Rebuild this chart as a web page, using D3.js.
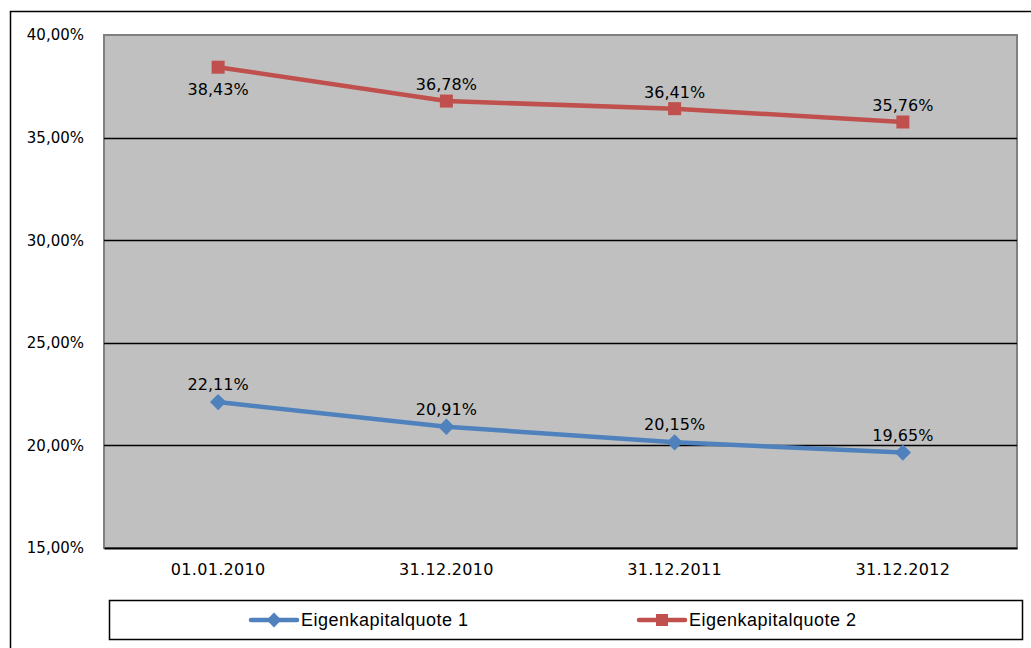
<!DOCTYPE html>
<html>
<head>
<meta charset="utf-8">
<title>Eigenkapitalquote</title>
<script src="https://d3js.org/d3.v7.min.js"></script>
<style>
  body { margin: 0; background: #fff; }
  text { font-family: "DejaVu Sans", Verdana, sans-serif; fill: #000; }
</style>
</head>
<body>
<svg id="svg"></svg>
<script>
var width = 1031, height = 648;
var margins = {top: 35, left: 104, right: 14, bottom: 100};

// data
var categories = ["01.01.2010", "31.12.2010", "31.12.2011", "31.12.2012"];
var quote1 = [22.11, 20.91, 20.15, 19.65];
var quote2 = [38.43, 36.78, 36.41, 35.76];
var seriesNames = ["Eigenkapitalquote 1", "Eigenkapitalquote 2"];
var yTicks = [15, 20, 25, 30, 35, 40];

var fmt = function(v) { return v.toFixed(2).replace(".", ",") + "%"; };

var svg = d3.select("#svg").attr("width", width).attr("height", height);

// outer chart frame
svg.append("rect")
  .attr("x", 10.5).attr("y", 11.5)
  .attr("width", 1040).attr("height", 660)
  .attr("fill", "#fff").attr("stroke", "#000").attr("stroke-width", 1.5);

var plotW = width - margins.left - margins.right,
    plotH = height - margins.top - margins.bottom;

var x = d3.scaleBand().domain(categories).range([0, plotW]);
var y = d3.scaleLinear().domain([15, 40]).range([plotH, 0]);

var g = svg.append("g").attr("transform", "translate(" + margins.left + "," + margins.top + ")");

// plot area
g.append("rect")
  .attr("width", plotW).attr("height", plotH)
  .attr("fill", "#c0c0c0").attr("stroke", "#808080").attr("stroke-width", 2);

// gridlines
g.selectAll(".grid").data(yTicks.slice(1, -1)).enter().append("line")
  .attr("x1", 0).attr("x2", plotW)
  .attr("y1", function(d) { return Math.round(y(d)) + 0.5; })
  .attr("y2", function(d) { return Math.round(y(d)) + 0.5; })
  .attr("stroke", "#000").attr("stroke-width", 1.3);

// y axis
var axisY = d3.axisLeft(y).tickValues(yTicks).tickSize(0).tickPadding(20).tickFormat(fmt);
var ay = g.append("g").call(axisY);
ay.select(".domain").remove();
ay.selectAll("text").style("font-size", "15px").style("font-family", "DejaVu Sans").attr("fill", "#000");

// x axis
var axisX = d3.axisBottom(x).tickSize(0).tickPadding(16);
var ax = g.append("g").attr("transform", "translate(0," + plotH + ")").call(axisX);
ax.select(".domain").attr("stroke", "#000").attr("stroke-width", 2);
ax.selectAll("text").style("font-size", "16px").style("font-family", "DejaVu Sans")
  .style("letter-spacing", "0.3px").attr("fill", "#000");

var line = d3.line()
  .x(function(d, i) { return x(categories[i]) + x.bandwidth() / 2; })
  .y(function(d) { return y(d); });

// series 1 (blue, diamonds)
g.append("path").datum(quote1)
  .attr("d", line).attr("fill", "none")
  .attr("stroke", "#4f81bd").attr("stroke-width", 4.5);
g.selectAll(".m1").data(quote1).enter().append("path")
  .attr("d", d3.symbol().type(d3.symbolDiamond2).size(170))
  .attr("transform", function(d, i) { return "translate(" + (x(categories[i]) + x.bandwidth() / 2) + "," + y(d) + ")"; })
  .attr("fill", "#4f81bd");
g.selectAll(".l1").data(quote1).enter().append("text")
  .attr("x", function(d, i) { return x(categories[i]) + x.bandwidth() / 2; })
  .attr("y", function(d) { return y(d) - 12; })
  .attr("text-anchor", "middle").style("font-size", "16px")
  .text(fmt);

// series 2 (red, squares)
g.append("path").datum(quote2)
  .attr("d", line).attr("fill", "none")
  .attr("stroke", "#c0504d").attr("stroke-width", 4.5);
g.selectAll(".m2").data(quote2).enter().append("rect")
  .attr("x", function(d, i) { return x(categories[i]) + x.bandwidth() / 2 - 6.5; })
  .attr("y", function(d) { return y(d) - 6.5; })
  .attr("width", 13).attr("height", 13)
  .attr("fill", "#c0504d");
g.selectAll(".l2").data(quote2).enter().append("text")
  .attr("x", function(d, i) { return x(categories[i]) + x.bandwidth() / 2; })
  .attr("y", function(d, i) { return i === 0 ? y(d) + 28 : y(d) - 11; })
  .attr("text-anchor", "middle").style("font-size", "16px")
  .text(fmt);

// legend
var leg = svg.append("g");
leg.append("rect")
  .attr("x", 109.5).attr("y", 600.5).attr("width", 913).attr("height", 39)
  .attr("fill", "#fff").attr("stroke", "#000").attr("stroke-width", 1.5);

var legItems = [
  {name: seriesNames[0], color: "#4f81bd", x0: 251, shape: "diamond"},
  {name: seriesNames[1], color: "#c0504d", x0: 639, shape: "square"}
];
legItems.forEach(function(it) {
  leg.append("line")
    .attr("x1", it.x0).attr("x2", it.x0 + 46).attr("y1", 620).attr("y2", 620)
    .attr("stroke", it.color).attr("stroke-width", 4.5).attr("stroke-linecap", "round");
  if (it.shape === "diamond") {
    leg.append("path")
      .attr("d", d3.symbol().type(d3.symbolDiamond2).size(140))
      .attr("transform", "translate(" + (it.x0 + 23) + ",620)")
      .attr("fill", it.color);
  } else {
    leg.append("rect")
      .attr("x", it.x0 + 17).attr("y", 614).attr("width", 12).attr("height", 12)
      .attr("fill", it.color);
  }
  leg.append("text")
    .attr("x", it.x0 + 50).attr("y", 626)
    .style("font-family", "Liberation Sans")
    .style("font-size", "18px").style("letter-spacing", "0.5px")
    .text(it.name);
});
</script>
</body>
</html>
